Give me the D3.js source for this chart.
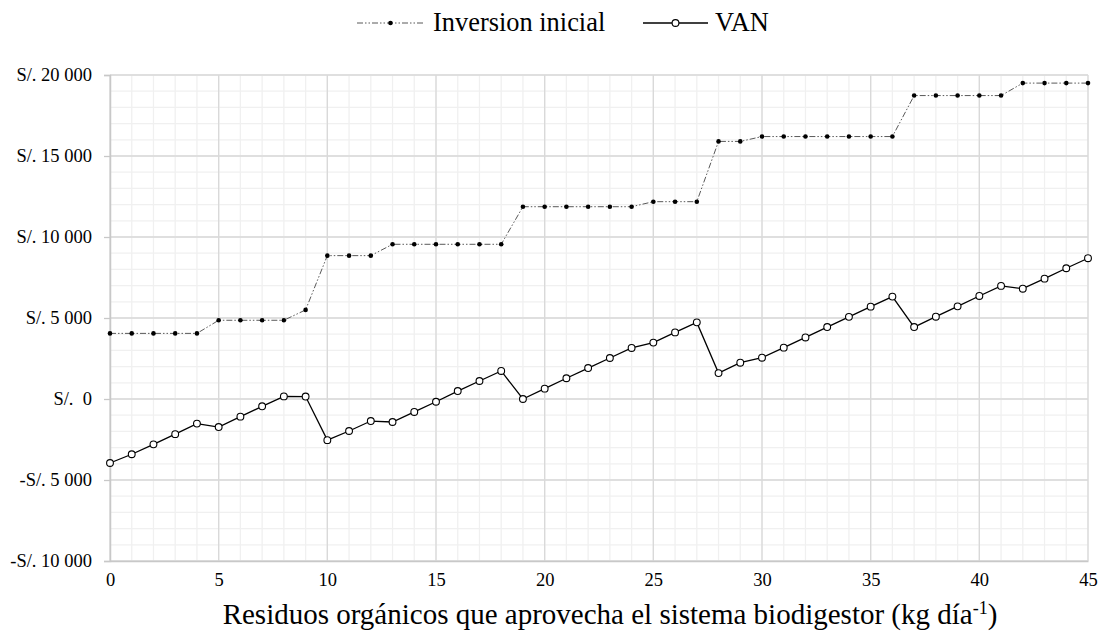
<!DOCTYPE html>
<html>
<head>
<meta charset="utf-8">
<script src="https://cdn.jsdelivr.net/npm/d3@7"></script>
<style>
  body { margin: 0; background: #fff; }
  svg { display: block; font-family: "Liberation Serif", "Times New Roman", serif; }
</style>
</head>
<body>
<svg width="1102" height="631"></svg>
<script>
// residuos (kg/dia)
var residuos = [0, 1, 2, 3, 4, 5, 6, 7, 8, 9, 10, 11, 12, 13, 14, 15, 16, 17, 18, 19, 20, 21, 22,
    23, 24, 25, 26, 27, 28, 29, 30, 31, 32, 33, 34, 35, 36, 37, 38, 39, 40, 41, 42, 43, 44, 45];

var inversion = [4050, 4050, 4050, 4050, 4050, 4860, 4860, 4860, 4860, 5500,
    8850, 8850, 8850, 9550, 9550, 9550, 9550, 9550, 9550,
    11870, 11870, 11870, 11870, 11870, 11870, 12180, 12180, 12180,
    15900, 15900, 16200, 16200, 16200, 16200, 16200, 16200, 16200,
    18730, 18730, 18730, 18730, 18730, 19500, 19500, 19500, 19500];

var van = [-3950, -3410, -2800, -2170, -1520, -1730, -1090, -450, 160, 150,
    -2540, -1975, -1360, -1420, -800, -170, 490, 1110, 1730, 0,
    640, 1280, 1910, 2530, 3150, 3480, 4110, 4730, 1600, 2240,
    2550, 3170, 3800, 4440, 5070, 5700, 6320, 4440, 5080, 5720,
    6360, 6980, 6810, 7430, 8070, 8690];

var yTicks = [-10000, -5000, 0, 5000, 10000, 15000, 20000];
var xTicks = [0, 5, 10, 15, 20, 25, 30, 35, 40, 45];

var svg = d3.select("svg"),
    pLeft = 110, pRight = 1088, pTop = 75, pBottom = 561;

var x = d3.scaleLinear().domain([0, 45]).range([pLeft, pRight]);
var y = d3.scaleLinear().domain([-10000, 20000]).range([pBottom, pTop]);

function fmt(v) {
    if (v === 0) return "S/.\u00a0\u00a00";
    var a = Math.abs(v), s = String(a);
    if (a >= 1000) s = Math.floor(a / 1000) + "\u00a0" + String(a % 1000).padStart(3, "0");
    return (v < 0 ? "-" : "") + "S/.\u00a0" + s;
}

// minor grid
var grid = svg.append("g");
grid.selectAll(".ym").data(d3.range(-10000, 20001, 1000)).enter().append("line")
    .attr("x1", pLeft).attr("x2", pRight)
    .attr("y1", function (d) { return y(d); }).attr("y2", function (d) { return y(d); })
    .attr("stroke", "#f0f0f0").attr("stroke-width", 1.3);
grid.selectAll(".xm").data(residuos).enter().append("line")
    .attr("y1", pTop).attr("y2", pBottom)
    .attr("x1", function (d) { return x(d); }).attr("x2", function (d) { return x(d); })
    .attr("stroke", "#f0f0f0").attr("stroke-width", 1.3);
// major grid
grid.selectAll(".yM").data(yTicks).enter().append("line")
    .attr("x1", pLeft).attr("x2", pRight)
    .attr("y1", function (d) { return y(d); }).attr("y2", function (d) { return y(d); })
    .attr("stroke", "#d9d9d9").attr("stroke-width", 1.3);
grid.selectAll(".xM").data(xTicks).enter().append("line")
    .attr("y1", pTop).attr("y2", pBottom)
    .attr("x1", function (d) { return x(d); }).attr("x2", function (d) { return x(d); })
    .attr("stroke", "#d9d9d9").attr("stroke-width", 1.3);

// axes
var yAxis = svg.append("g")
    .attr("transform", "translate(" + pLeft + ",0)")
    .call(d3.axisLeft(y).tickValues(yTicks).tickFormat(fmt).tickSize(6).tickPadding(12));
yAxis.select(".domain").attr("stroke", "#c8c8c8").attr("stroke-width", 1.5);
yAxis.selectAll(".tick line").attr("stroke", "#c8c8c8").attr("stroke-width", 1.3);
yAxis.selectAll("text").attr("font-size", 18.5).attr("fill", "#000")
    .attr("font-family", "Liberation Serif, serif");

var xAxis = svg.append("g")
    .attr("transform", "translate(0," + pBottom + ")")
    .call(d3.axisBottom(x).tickValues(xTicks).tickFormat(d3.format("d")).tickSize(0).tickPadding(12));
xAxis.select(".domain").attr("stroke", "#c8c8c8").attr("stroke-width", 1.5);
xAxis.selectAll("text").attr("font-size", 18.5).attr("fill", "#000")
    .attr("font-family", "Liberation Serif, serif");

// lines
var line = d3.line().x(function (d, i) { return x(residuos[i]); }).y(function (d) { return y(d); });

svg.append("path").datum(inversion)
    .attr("d", line)
    .attr("fill", "none")
    .attr("stroke", "#595959")
    .attr("stroke-width", 1)
    .attr("stroke-dasharray", "6,2,1.5,2,1.5,2");

svg.append("g").selectAll("circle").data(inversion).enter().append("circle")
    .attr("cx", function (d, i) { return x(residuos[i]); })
    .attr("cy", function (d) { return y(d); })
    .attr("r", 2.3)
    .attr("fill", "#000");

svg.append("path").datum(van)
    .attr("d", line)
    .attr("fill", "none")
    .attr("stroke", "#000")
    .attr("stroke-width", 1.3);

svg.append("g").selectAll("circle").data(van).enter().append("circle")
    .attr("cx", function (d, i) { return x(residuos[i]); })
    .attr("cy", function (d) { return y(d); })
    .attr("r", 3.4)
    .attr("fill", "#fff")
    .attr("stroke", "#000")
    .attr("stroke-width", 1.1);

// legend
var leg = svg.append("g");
leg.append("line").attr("x1", 357).attr("x2", 424).attr("y1", 23).attr("y2", 23)
    .attr("stroke", "#595959").attr("stroke-width", 1).attr("stroke-dasharray", "6,2,1.5,2,1.5,2");
leg.append("circle").attr("cx", 390.5).attr("cy", 23).attr("r", 2.3).attr("fill", "#000");
leg.append("text").attr("x", 433).attr("y", 31).attr("font-size", 26.4).text("Inversion inicial");

leg.append("line").attr("x1", 643).attr("x2", 708).attr("y1", 23).attr("y2", 23)
    .attr("stroke", "#000").attr("stroke-width", 1.3);
leg.append("circle").attr("cx", 675.5).attr("cy", 23).attr("r", 3.4)
    .attr("fill", "#fff").attr("stroke", "#000").attr("stroke-width", 1.1);
leg.append("text").attr("x", 715).attr("y", 31).attr("font-size", 26.4).text("VAN");

// axis title
var title = svg.append("text")
    .attr("x", 610).attr("y", 624)
    .attr("text-anchor", "middle")
    .attr("font-size", 29);
title.append("tspan").text("Residuos orgánicos que aprovecha el sistema biodigestor (kg día");
title.append("tspan").attr("font-size", 18).attr("dy", -10).text("-1");
title.append("tspan").attr("dy", 10).text(")");
</script>
</body>
</html>
